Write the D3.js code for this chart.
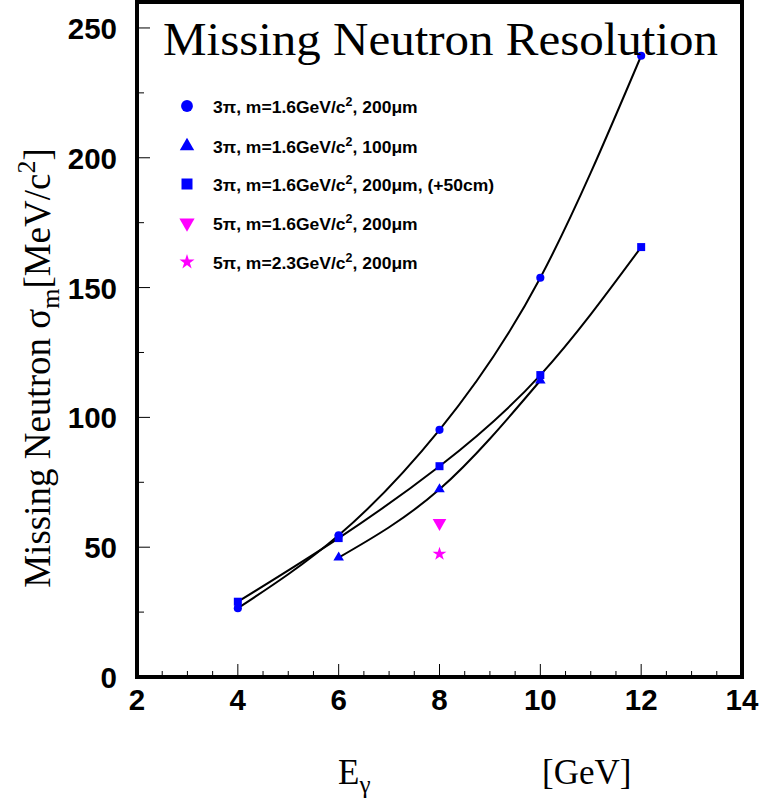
<!DOCTYPE html>
<html><head><meta charset="utf-8">
<script src="https://cdn.jsdelivr.net/npm/d3@7"></script>
<style>body{margin:0;background:#fff}svg{display:block}</style>
</head><body>
<script>
const energies = [4, 6, 8, 10, 12];
const circle200 = [26.5, 54.6, 95.2, 153.8, 239.3];
const triE = [6, 8, 10];
const tri100 = [46.0, 72.3, 114.2];
const square50 = [29.0, 53.5, 81.2, 116.3, 165.6];
const downE = [8];
const down5pi = [59.3];
const starE = [8];
const star5pi = [47.4];
const xTicks = [2, 4, 6, 8, 10, 12, 14];
const yTicks = [0, 50, 100, 150, 200, 250];
const legendLabels = [
  ["3\u03c0, m=1.6GeV/c", "2", ", 200\u03bcm"],
  ["3\u03c0, m=1.6GeV/c", "2", ", 100\u03bcm"],
  ["3\u03c0, m=1.6GeV/c", "2", ", 200\u03bcm, (+50cm)"],
  ["5\u03c0, m=1.6GeV/c", "2", ", 200\u03bcm"],
  ["5\u03c0, m=2.3GeV/c", "2", ", 200\u03bcm"]
];

const W = 762, H = 803;
const L = 137, R = 742, T = 2, B = 677;
const svg = d3.select("body").append("svg").attr("width", W).attr("height", H);
const x = d3.scaleLinear().domain([2, 14]).range([L, R]);
const y = d3.scaleLinear().domain([0, 260]).range([B, T]);
const blue = "#0000ff", mag = "#ff00ff";

// ticks
const g = svg.append("g");
const xMinor = d3.range(2, 14.01, 0.5);
xMinor.forEach(v => {
  const major = Math.abs(v - Math.round(v / 2) * 2) < 1e-6;
  g.append("line").attr("x1", x(v)).attr("x2", x(v)).attr("y1", B).attr("y2", B - (major ? 13 : 6))
    .attr("stroke", "#000").attr("stroke-width", 1);
});
const yMinor = d3.range(0, 260, 25);
yMinor.forEach(v => {
  const major = v % 50 === 0;
  g.append("line").attr("x1", L).attr("x2", L + (major ? 13 : 7)).attr("y1", y(v)).attr("y2", y(v))
    .attr("stroke", "#000").attr("stroke-width", 1);
});

// curves
const line = d3.line().x(d => x(d[0])).y(d => y(d[1])).curve(d3.curveNatural);
const drawCurve = (xs, ys) => svg.append("path").attr("d", line(xs.map((v, i) => [v, ys[i]])))
  .attr("fill", "none").attr("stroke", "#000").attr("stroke-width", 2);
drawCurve(energies, circle200);
drawCurve(triE, tri100);
drawCurve(energies, square50);

// markers
const sym = (type, size) => d3.symbol().type(type).size(size)();
function markers(xs, ys, type, size, color, rot) {
  svg.append("g").selectAll("path").data(xs.map((v, i) => [v, ys[i]])).join("path")
    .attr("d", sym(type, size))
    .attr("transform", d => `translate(${x(d[0])},${y(d[1])})${rot ? " rotate(180)" : ""}`)
    .attr("fill", color);
}
markers(energies, circle200, d3.symbolCircle, 52, blue);
markers(triE, tri100, d3.symbolTriangle, 48, blue);
markers(energies, square50, d3.symbolSquare, 64, blue);
markers(downE, down5pi, d3.symbolTriangle, 80, mag, true);
markers(starE, star5pi, d3.symbolStar, 60, mag);

// frame
svg.append("rect").attr("x", L).attr("y", T).attr("width", R - L).attr("height", B - T)
  .attr("fill", "none").attr("stroke", "#000").attr("stroke-width", 4);

// tick labels
const tf = "'Liberation Sans', Arial, sans-serif";
xTicks.forEach(v => {
  svg.append("text").attr("x", x(v)).attr("y", 710).attr("text-anchor", "middle")
    .attr("font-family", tf).attr("font-weight", "bold").attr("font-size", 29.5).text(v);
});
yTicks.forEach(v => {
  svg.append("text").attr("x", 117).attr("y", y(v) + 11).attr("text-anchor", "end")
    .attr("font-family", tf).attr("font-weight", "bold").attr("font-size", 29.5).text(v);
});

// title
const sf = "'Liberation Serif', 'Times New Roman', serif";
svg.append("text").attr("x", 163).attr("y", 55).attr("font-family", sf).attr("font-size", 46)
  .attr("textLength", 555).attr("lengthAdjust", "spacingAndGlyphs").text("Missing Neutron Resolution");

// legend
const legTypes = [
  [d3.symbolCircle, 110, blue, false],
  [d3.symbolTriangle, 90, blue, false],
  [d3.symbolSquare, 121, blue, false],
  [d3.symbolTriangle, 100, mag, true],
  [d3.symbolStar, 70, mag, false]
];
const legY = [106, 146, 184, 223, 262];
legendLabels.forEach((lab, i) => {
  const [t, s, c, r] = legTypes[i];
  svg.append("path").attr("d", sym(t, s)).attr("fill", c)
    .attr("transform", `translate(187,${legY[i]})${r ? " rotate(180)" : ""}`);
  const tx = svg.append("text").attr("transform", `translate(213,${legY[i] + 7}) scale(1.03,1)`)
    .attr("font-family", tf).attr("font-weight", "bold").attr("font-size", 17);
  tx.append("tspan").text(lab[0]);
  tx.append("tspan").attr("dy", -7).attr("font-size", 12).text(lab[1]);
  tx.append("tspan").attr("dy", 7).text(lab[2]);
});

// y label
const yl = svg.append("text").attr("transform", "translate(50,368) rotate(-90)")
  .attr("text-anchor", "middle").attr("font-family", sf).attr("font-size", 37);
yl.append("tspan").text("Missing Neutron \u03c3");
yl.append("tspan").attr("dy", 9).attr("font-size", 26).text("m");
yl.append("tspan").attr("dy", -9).text("[MeV/c");
yl.append("tspan").attr("dy", -15).attr("font-size", 26).text("2");
yl.append("tspan").attr("dy", 15).text("]");

// x labels
const xl = svg.append("text").attr("x", 338).attr("y", 784).attr("font-family", sf).attr("font-size", 35);
xl.append("tspan").text("E");
xl.append("tspan").attr("dy", 9).attr("font-size", 25).text("\u03b3");
svg.append("text").attr("x", 542).attr("y", 784).attr("font-family", sf).attr("font-size", 35).text("[GeV]");
</script>
</body></html>
